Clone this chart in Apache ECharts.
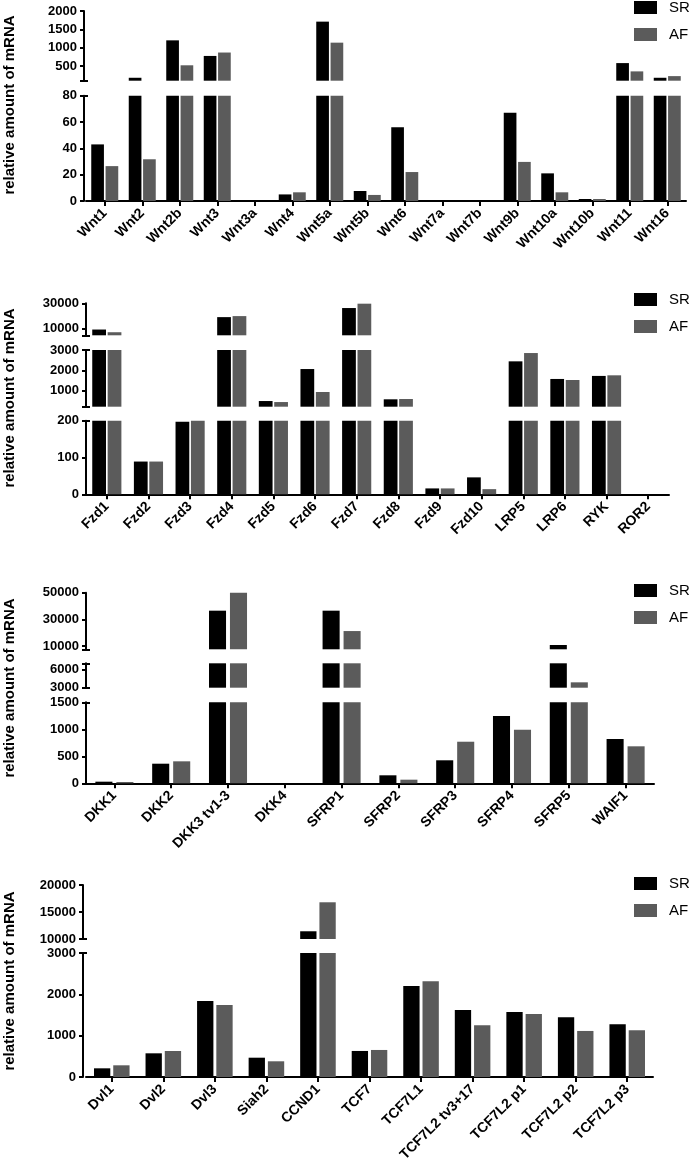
<!DOCTYPE html>
<html><head><meta charset="utf-8">
<script src="https://cdn.jsdelivr.net/npm/echarts@6/dist/echarts.min.js"></script>
<style>html,body{margin:0;padding:0;background:#fff}#c{width:689px;height:1171px}</style>
</head><body><div id="c"></div>
<script>
// ---------- DATA ----------
const seriesNames = ['SR', 'AF'];

const wntCats = ['Wnt1','Wnt2','Wnt2b','Wnt3','Wnt3a','Wnt4','Wnt5a','Wnt5b','Wnt6','Wnt7a','Wnt7b','Wnt9b','Wnt10a','Wnt10b','Wnt11','Wnt16'];
const wntSR = [43, 180, 1200, 775, 0, 5, 1710, 7.6, 56, 0, 0, 67, 21, 1.5, 580, 180];
const wntAF = [26.5, 31.7, 520, 868, 0, 6.6, 1137, 4.6, 22, 0, 0, 29.7, 6.6, 1.5, 354, 225];
const wntRanges = [[100, 2000], [0, 80]];
const wntTickLabels = [[500, 1000, 1500, 2000], [0, 20, 40, 60, 80]];

const fzdCats = ['Fzd1','Fzd2','Fzd3','Fzd4','Fzd5','Fzd6','Fzd7','Fzd8','Fzd9','Fzd10','LRP5','LRP6','RYK','ROR2'];
const fzdSR = [9500, 89, 197, 19200, 480, 2060, 26300, 565, 16, 46, 2440, 1570, 1720, 0];
const fzdAF = [7400, 89, 200, 20000, 430, 925, 29700, 580, 16, 14, 2850, 1520, 1750, 0];
const fzdRanges = [[5000, 30000], [200, 3000], [0, 200]];
const fzdTickLabels = [[10000, 30000], [1000, 2000, 3000], [0, 100, 200]];

const dkkCats = ['DKK1','DKK2','DKK3 tv1-3','DKK4','SFRP1','SFRP2','SFRP3','SFRP4','SFRP5','WAIF1'];
const dkkSR = [30, 363, 36500, 0, 36500, 148, 426, 1246, 10750, 820];
const dkkAF = [24, 407, 50000, 0, 21200, 67, 770, 993, 3880, 685];
const dkkRanges = [[7500, 50000], [3000, 7000], [0, 1500]];
const dkkTickLabels = [[10000, 30000, 50000], [3000, 6000], [0, 500, 1000, 1500]];

const dvlCats = ['Dvl1','Dvl2','Dvl3','Siah2','CCND1','TCF7','TCF7L1','TCF7L2 tv3+17','TCF7L2 p1','TCF7L2 p2','TCF7L2 p3'];
const dvlSR = [210, 573, 1840, 467, 11430, 630, 2203, 1622, 1574, 1445, 1276];
const dvlAF = [283, 629, 1743, 380, 16800, 654, 2317, 1251, 1525, 1114, 1131];
const dvlRanges = [[10000, 20000], [0, 3000]];
const dvlTickLabels = [[10000, 15000, 20000], [0, 1000, 2000, 3000]];

const yTitle = 'relative amount of mRNA';

// ---------- LAYOUT ----------
const FONT = '"Liberation Sans", Arial, sans-serif';
const panels = [
  { cats: wntCats, sr: wntSR, af: wntAF, ranges: wntRanges, labels: wntTickLabels,
    left: 86, width: 600, offset: 2, catGap: '28%', barGap: '13%',
    px: [[11, 80.7], [95.7, 201]], legendTop: 0, titleY: 105 },
  { cats: fzdCats, sr: fzdSR, af: fzdAF, ranges: fzdRanges, labels: fzdTickLabels,
    left: 86, width: 583, offset: 0, catGap: '30%', barGap: '12%',
    px: [[303.3, 335.3], [350, 406.7], [420.7, 494.3]], legendTop: 292, titleY: 398 },
  { cats: dkkCats, sr: dkkSR, af: dkkAF, ranges: dkkRanges, labels: dkkTickLabels,
    left: 86, width: 568, offset: 0, catGap: '33%', barGap: '23%',
    px: [[592.7, 649.3], [663.3, 687.7], [702.3, 783.3]], legendTop: 583, titleY: 688 },
  { cats: dvlCats, sr: dvlSR, af: dvlAF, ranges: dvlRanges, labels: dvlTickLabels,
    left: 86, width: 567, offset: 3, catGap: '31%', barGap: '18%',
    px: [[885, 939], [953, 1077]], legendTop: 876, titleY: 981 }
];

const option = { animation: false, grid: [], xAxis: [], yAxis: [], series: [], legend: [], graphic: [] };
const black = '#000';

panels.forEach(p => {
  const n = p.ranges.length;
  p.ranges.forEach((r, i) => {
    const gi = option.grid.length;
    const last = i === n - 1;
    const first = i === 0;
    const [top, bottom] = p.px[i];
    option.grid.push({ left: p.left, width: p.width, top: top, height: bottom - top });
    option.xAxis.push({
      type: 'category', gridIndex: gi, data: p.cats, show: last,
      axisLine: { show: true, lineStyle: { color: black, width: 2 } },
      axisTick: { show: true, alignWithLabel: true, length: 5, lineStyle: { color: black, width: 2 } },
      axisLabel: { rotate: 45, interval: 0, margin: 10, fontSize: 14, fontWeight: 'bold', color: black, fontFamily: FONT }
    });
    const breaks = [];
    if (!last) breaks.push(r[0]);
    if (!first) breaks.push(r[1]);
    const ticks = p.labels[i].slice();
    breaks.forEach(b => { if (ticks.indexOf(b) < 0) ticks.push(b); });
    const yi = option.yAxis.length;
    option.yAxis.push({
      type: 'value', gridIndex: gi, position: 'left', min: r[0], max: r[1], offset: p.offset,
      splitLine: { show: false },
      axisLine: { show: true, lineStyle: { color: black, width: 2 } },
      axisTick: { show: true, length: 4, customValues: ticks, lineStyle: { color: black, width: 2 } },
      axisLabel: { customValues: p.labels[i], margin: 7, fontSize: 13, fontWeight: 'bold', color: black, fontFamily: FONT,
                   formatter: v => String(v) }
    });
    option.yAxis.push({
      type: 'value', gridIndex: gi, position: 'left', min: r[0], max: r[1], offset: p.offset,
      splitLine: { show: false }, axisLine: { show: false }, axisLabel: { show: false },
      axisTick: { show: breaks.length > 0, inside: true, length: 4, customValues: breaks.length ? breaks : [r[0]], lineStyle: { color: black, width: 2 } }
    });
    option.series.push({
      type: 'bar', name: seriesNames[0], xAxisIndex: gi, yAxisIndex: yi, data: p.sr,
      itemStyle: { color: '#000000' }, barCategoryGap: p.catGap, barGap: p.barGap, silent: true, clip: true
    });
    option.series.push({
      type: 'bar', name: seriesNames[1], xAxisIndex: gi, yAxisIndex: yi, data: p.af,
      itemStyle: { color: '#5b5b5b' }, barCategoryGap: p.catGap, barGap: p.barGap, silent: true, clip: true
    });
  });
  option.legend.push({
    data: seriesNames, orient: 'vertical', left: 634, top: p.legendTop, padding: 0,
    itemWidth: 23, itemHeight: 13, itemGap: 12, icon: 'rect', selectedMode: false,
    textStyle: { fontSize: 15, color: black, fontFamily: FONT, padding: [0, 0, 0, 7] }
  });
  option.graphic.push({
    type: 'text', x: 10, y: p.titleY, rotation: Math.PI / 2,
    style: { text: yTitle, font: 'bold 15px ' + FONT, fill: black, align: 'center', verticalAlign: 'middle' }
  });
});

const chart = echarts.init(document.getElementById('c'), null, { renderer: 'canvas' });
chart.setOption(option);
</script>
</body></html>
